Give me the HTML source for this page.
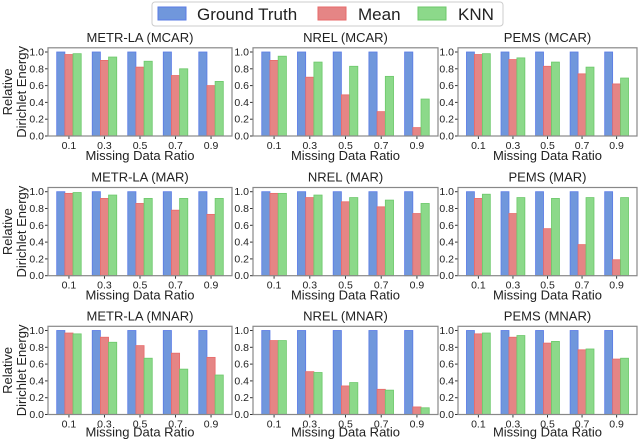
<!DOCTYPE html>
<html><head><meta charset="utf-8"><style>
html,body{margin:0;padding:0;background:#fff;}
svg{display:block;font-family:"Liberation Sans","DejaVu Sans",sans-serif;}
</style></head><body>
<svg id="fig" width="640" height="441" viewBox="0 0 640 441">
<g>
<rect x="152" y="2" width="351" height="24" rx="3" fill="#fff" stroke="#ccc"/>
<rect x="158" y="7" width="28" height="13" fill="#7097dc" stroke="#5a7be6"/>
<text x="197" y="20" font-size="17" fill="#222">Ground Truth</text>
<rect x="318" y="7" width="28" height="13" fill="#e58585" stroke="#e86a6a"/>
<text x="358" y="20" font-size="17" fill="#222">Mean</text>
<rect x="418" y="7" width="28" height="13" fill="#8cd98a" stroke="#6cc86a"/>
<text x="458" y="20" font-size="17" fill="#222">KNN</text>
</g>
</svg>
<script>
const categories = ["0.1","0.3","0.5","0.7","0.9"];
const yTicks = [0,0.2,0.4,0.6,0.8,1.0];
const yTickLabels = ["0.0","0.2","0.4","0.6","0.8","1.0"];
const panelTitles = ["METR-LA (MCAR)","NREL (MCAR)","PEMS (MCAR)","METR-LA (MAR)","NREL (MAR)","PEMS (MAR)","METR-LA (MNAR)","NREL (MNAR)","PEMS (MNAR)"];
const groundTruth = [1,1,1,1,1];
const meanMetrMcar = [0.97,0.90,0.82,0.72,0.60];
const knnMetrMcar = [0.98,0.94,0.89,0.80,0.65];
const meanNrelMcar = [0.90,0.70,0.49,0.29,0.10];
const knnNrelMcar = [0.95,0.88,0.83,0.71,0.44];
const meanPemsMcar = [0.97,0.91,0.83,0.74,0.62];
const knnPemsMcar = [0.98,0.93,0.88,0.82,0.69];
const meanMetrMar = [0.98,0.92,0.86,0.78,0.73];
const knnMetrMar = [0.99,0.96,0.92,0.92,0.92];
const meanNrelMar = [0.98,0.93,0.88,0.82,0.74];
const knnNrelMar = [0.98,0.96,0.93,0.90,0.86];
const meanPemsMar = [0.92,0.74,0.56,0.37,0.19];
const knnPemsMar = [0.97,0.93,0.92,0.93,0.93];
const meanMetrMnar = [0.97,0.92,0.82,0.73,0.68];
const knnMetrMnar = [0.96,0.86,0.67,0.54,0.47];
const meanNrelMnar = [0.88,0.51,0.34,0.30,0.09];
const knnNrelMnar = [0.88,0.50,0.38,0.29,0.08];
const meanPemsMnar = [0.96,0.92,0.85,0.77,0.66];
const knnPemsMnar = [0.97,0.94,0.87,0.78,0.67];
const meanSeries = [meanMetrMcar,meanNrelMcar,meanPemsMcar,meanMetrMar,meanNrelMar,meanPemsMar,meanMetrMnar,meanNrelMnar,meanPemsMnar];
const knnSeries = [knnMetrMcar,knnNrelMcar,knnPemsMcar,knnMetrMar,knnNrelMar,knnPemsMar,knnMetrMnar,knnNrelMnar,knnPemsMnar];

const NS="http://www.w3.org/2000/svg";
const svg=document.getElementById('fig');
function mk(tag,attrs,parent){const e=document.createElementNS(NS,tag);for(const k in attrs)e.setAttribute(k,attrs[k]);(parent||svg).appendChild(e);return e;}
const colL=[48,253,458], colR=[232,438,637];
const rowZero=[136,275.7,414.5];
const unitH=84;
const xmin=-0.59,xmax=4.59;
const fills=["#7097dc","#e58585","#8cd98a"], strokes=["#5a7be6","#e86a6a","#6cc86a"];
const names=["ground-truth","mean","knn"];
for(let p=0;p<9;p++){
  const r=Math.floor(p/3), c=p%3;
  const L=colL[c], R=colR[c], y0=rowZero[r];
  const xs=v=>L+(v-xmin)/(xmax-xmin)*(R-L);
  const ys=v=>y0-v*unitH;
  const g=mk('g',{});
  
  
  const top=ys(1.05);
  const t=mk('text',{x:(L+R)/2,y:top-6,'font-size':13,'text-anchor':'middle',fill:'#222'},g);
  t.textContent=panelTitles[p];
  
  
  const spacing=(xs(1)-xs(0)), bw=spacing*0.23;
  const series=[groundTruth,meanSeries[p],knnSeries[p]];
  for(let i=0;i<categories.length;i++){
    for(let s=0;s<3;s++){
      const v=series[s][i];
      const cx=xs(i)+(s-1)*bw;
      const b=mk('rect',{x:cx-bw/2,y:ys(v),width:bw,height:y0-ys(v),fill:fills[s],stroke:strokes[s],'stroke-width':0.8},g);
      
      
    }
    mk('line',{x1:xs(i),x2:xs(i),y1:y0,y2:y0+3,stroke:'#333'},g);
    const tl=mk('text',{x:xs(i),y:y0+13,'font-size':10.5,'text-anchor':'middle',fill:'#222'},g);
    tl.textContent=categories[i];
    
    
  }
  for(let j=0;j<yTicks.length;j++){
    const yy=ys(yTicks[j]);
    mk('line',{x1:L-3,x2:L,y1:yy,y2:yy,stroke:'#333'},g);
    const yl=mk('text',{x:L-4,y:yy+3.5,'font-size':10.5,'text-anchor':'end',fill:'#222'},g);
    yl.textContent=yTickLabels[j];
    
    
  }
  const fr=mk('rect',{x:L,y:top,width:R-L,height:y0-top,fill:'none',stroke:'#888','stroke-width':1.2},g);
  
  
  const xl=mk('text',{x:(L+R)/2,y:Math.min(y0+24,436.5),'font-size':13,'text-anchor':'middle',fill:'#222'},g);
  xl.textContent='Missing Data Ratio';
  
  
  if(c===0){
    const cy=(top+y0)/2;
    const a=mk('text',{x:0,y:0,'font-size':13,'text-anchor':'middle',fill:'#222',transform:`translate(12,${cy}) rotate(-90)`},g);
    a.textContent='Relative';
    
    
    const b2=mk('text',{x:0,y:0,'font-size':13,'text-anchor':'middle',fill:'#222',transform:`translate(26,${cy}) rotate(-90)`},g);
    b2.textContent='Dirichlet Energy';
    
    
  }
}
</script>
</body></html>
